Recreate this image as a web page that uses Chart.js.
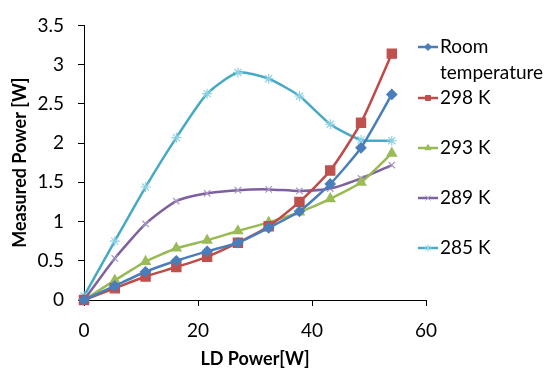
<!DOCTYPE html>
<html>
<head>
<meta charset="utf-8">
<title>Measured Power vs LD Power</title>
<script src="https://cdn.jsdelivr.net/npm/chart.js@4.4.0/dist/chart.umd.min.js"></script>
<style>
html, body { margin: 0; padding: 0; background: #fff; }
#wrap { width: 555px; height: 372px; }
</style>
</head>
<body>
<div id="wrap"><canvas id="powerChart"></canvas></div>
<script>
// LD pump power (x) and measured output power (y) per temperature
const ldPower = [0, 5.4, 10.8, 16.2, 21.6, 27, 32.4, 37.8, 43.2, 48.6, 54];
const roomTemp = [0, 0.18, 0.36, 0.50, 0.62, 0.73, 0.92, 1.13, 1.48, 1.94, 2.62];
const temp298 = [0, 0.15, 0.30, 0.42, 0.55, 0.73, 0.94, 1.25, 1.65, 2.26, 3.14];
const temp293 = [0, 0.25, 0.49, 0.66, 0.76, 0.88, 0.99, 1.12, 1.29, 1.50, 1.87];
const temp289 = [0, 0.53, 0.97, 1.26, 1.36, 1.40, 1.41, 1.39, 1.42, 1.55, 1.72];
const temp285 = [0.05, 0.75, 1.44, 2.07, 2.63, 2.90, 2.82, 2.60, 2.24, 2.04, 2.03];

const seriesNames = ['Room temperature', '298 K', '293 K', '289 K', '285 K'];
const xTicks = [0, 20, 40, 60];
const yTicks = [0, 0.5, 1, 1.5, 2, 2.5, 3, 3.5];

const FONT = 'Lato, "Open Sans", sans-serif';

function makeSeries(label, values, color, markerColor, style, radius) {
    return {
        label: label,
        data: values.map((v, i) => ({ x: ldPower[i], y: v })),
        borderColor: color,
        backgroundColor: markerColor,
        borderWidth: 2.5,
        pointStyle: style,
        pointRadius: radius,
        pointBorderColor: markerColor,
        pointBackgroundColor: markerColor,
        pointBorderWidth: 1.2,
        tension: 0.2,
        clip: false
    };
}

// Legend drawn on the right, wraps long names like Excel does
const sideLegend = {
    id: 'sideLegend',
    afterDraw(chart) {
        const ctx = chart.ctx;
        const x0 = 418, x1 = 438, textX = 440;
        let y = 47;
        ctx.save();
        ctx.font = '19px ' + FONT;
        ctx.textBaseline = 'middle';
        chart.data.datasets.forEach(ds => {
            ctx.strokeStyle = ds.borderColor;
            ctx.lineWidth = 2.5;
            ctx.beginPath();
            ctx.moveTo(x0, y);
            ctx.lineTo(x1, y);
            ctx.stroke();
            ctx.fillStyle = ds.pointBackgroundColor;
            ctx.strokeStyle = ds.pointBorderColor;
            ctx.lineWidth = 1;
            Chart.helpers.drawPoint(ctx, { pointStyle: ds.pointStyle, radius: 3.5, rotation: 0, borderWidth: 1 }, (x0 + x1) / 2, y);

            ctx.fillStyle = '#000';
            let lines = [ds.label];
            if (ctx.measureText(ds.label).width > 555 - textX) {
                lines = ds.label.split(' ');
            }
            lines.forEach((ln, k) => ctx.fillText(ln, textX, y + k * 26));
            y += 50 + (lines.length - 1);
        });
        ctx.restore();
    }
};

function createPowerChart() {
    const ctx = document.getElementById('powerChart').getContext('2d');
    new Chart(ctx, {
        type: 'line',
        data: {
            datasets: [
                makeSeries(seriesNames[0], roomTemp, '#4A7EBB', '#4A7EBB', 'rectRot', 5),
                makeSeries(seriesNames[1], temp298, '#BE4B48', '#C0504D', 'rect', 6.5),
                makeSeries(seriesNames[2], temp293, '#98B954', '#9BBB59', 'triangle', 5.5),
                makeSeries(seriesNames[3], temp289, '#7D60A0', '#A797C4', 'crossRot', 4.5),
                makeSeries(seriesNames[4], temp285, '#46AAC5', '#8DD0E2', 'star', 5)
            ]
        },
        options: {
            responsive: true,
            maintainAspectRatio: false,
            animation: false,
            layout: { padding: { top: 16, right: 129, left: 0, bottom: 0 } },
            plugins: {
                legend: { display: false },
                tooltip: { enabled: false }
            },
            scales: {
                x: {
                    type: 'linear',
                    min: xTicks[0],
                    max: xTicks[xTicks.length - 1],
                    afterBuildTicks: s => { s.ticks = xTicks.map(v => ({ value: v })); },
                    afterFit: s => { s.height = 72; },
                    grid: { drawOnChartArea: false, color: '#000', tickLength: 6 },
                    border: { color: '#000', width: 1 },
                    ticks: {
                        color: '#000',
                        padding: 13,
                        font: { family: FONT, size: 19 },
                        callback: v => String(v)
                    },
                    title: {
                        display: true,
                        text: 'LD Power[W]',
                        color: '#000',
                        font: { family: FONT, size: 18, weight: 'bold' },
                        padding: { top: 0, bottom: 2 }
                    }
                },
                y: {
                    min: yTicks[0],
                    max: yTicks[yTicks.length - 1],
                    afterBuildTicks: s => { s.ticks = yTicks.map(v => ({ value: v })); },
                    afterFit: s => { s.width = 84; },
                    grid: { drawOnChartArea: false, color: '#000', tickLength: 6 },
                    border: { color: '#000', width: 1 },
                    ticks: {
                        color: '#000',
                        padding: 14,
                        font: { family: FONT, size: 19 },
                        callback: v => String(v)
                    },
                    title: {
                        display: true,
                        text: 'Measured Power [W]',
                        color: '#000',
                        font: { family: FONT, size: 18, weight: 'bold' },
                        padding: { top: 9, bottom: 0 }
                    }
                }
            }
        },
        plugins: [sideLegend]
    });
}

window.onload = function() {
    createPowerChart();
};
</script>
</body>
</html>
